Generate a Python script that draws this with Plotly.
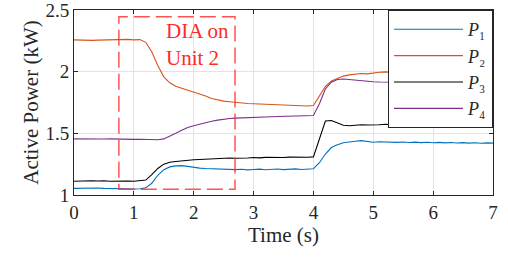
import plotly.graph_objects as go

TIME = [0.0, 0.1, 0.2, 0.3, 0.4, 0.5, 0.6, 0.7, 0.8, 0.9,
        1.0, 1.1, 1.2, 1.3, 1.4, 1.5, 1.6, 1.7, 1.8, 1.9,
        2.0, 2.1, 2.2, 2.3, 2.4, 2.5, 2.6, 2.7, 2.8, 2.9,
        3.0, 3.1, 3.2, 3.3, 3.4, 3.5, 3.6, 3.7, 3.8, 3.9,
        4.0, 4.1, 4.2, 4.3, 4.4, 4.5, 4.6, 4.7, 4.8, 4.9,
        5.0, 5.1, 5.2, 5.3, 5.4, 5.5, 5.6, 5.7, 5.8, 5.9,
        6.0, 6.1, 6.2, 6.3, 6.4, 6.5, 6.6, 6.7, 6.8, 6.9, 7.0]

P1 = [1.054, 1.056, 1.053, 1.055, 1.057, 1.054, 1.052, 1.055, 1.050, 1.048,
      1.049, 1.051, 1.058, 1.095, 1.160, 1.205, 1.228, 1.236, 1.238, 1.232,
      1.224, 1.218, 1.215, 1.212, 1.214, 1.208, 1.205, 1.206, 1.209, 1.204,
      1.207, 1.210, 1.205, 1.208, 1.211, 1.206, 1.209, 1.212, 1.207, 1.210,
      1.213, 1.262, 1.332, 1.385, 1.408, 1.424, 1.432, 1.436, 1.441, 1.437,
      1.428, 1.432, 1.429, 1.431, 1.427, 1.430, 1.426, 1.429, 1.425, 1.428,
      1.424, 1.427, 1.423, 1.426, 1.422, 1.425, 1.421, 1.424, 1.420, 1.423, 1.421]

P2 = [2.258, 2.255, 2.257, 2.254, 2.256, 2.258, 2.261, 2.257, 2.259, 2.262,
      2.258, 2.260, 2.238, 2.160, 2.050, 1.958, 1.910, 1.882, 1.866, 1.851,
      1.838, 1.820, 1.802, 1.783, 1.770, 1.761, 1.756, 1.750, 1.746, 1.742,
      1.740, 1.738, 1.735, 1.733, 1.734, 1.729, 1.731, 1.726, 1.728, 1.722,
      1.725, 1.800, 1.880, 1.924, 1.946, 1.964, 1.974, 1.979, 1.985, 1.982,
      1.991, 1.995, 1.998, 1.995, 2.001, 1.997, 2.002, 1.998, 2.003, 1.997,
      2.001, 1.996, 2.000, 1.997, 2.002, 1.998, 2.001, 1.996, 2.000, 1.998, 2.001]

P3 = [1.112, 1.114, 1.111, 1.115, 1.113, 1.116, 1.112, 1.114, 1.117, 1.113,
      1.111, 1.115, 1.121, 1.165, 1.215, 1.250, 1.265, 1.272, 1.278, 1.282,
      1.286, 1.288, 1.291, 1.290, 1.294, 1.296, 1.300, 1.298, 1.302, 1.300,
      1.304, 1.301, 1.305, 1.303, 1.306, 1.304, 1.307, 1.305, 1.308, 1.306,
      1.309, 1.455, 1.600, 1.604, 1.582, 1.566, 1.562, 1.566, 1.570, 1.568,
      1.572, 1.570, 1.574, 1.571, 1.575, 1.572, 1.576, 1.573, 1.577, 1.574,
      1.578, 1.575, 1.577, 1.574, 1.578, 1.575, 1.579, 1.576, 1.578, 1.575, 1.577]

P4 = [1.455, 1.454, 1.456, 1.455, 1.453, 1.454, 1.455, 1.453, 1.452, 1.453,
      1.451, 1.452, 1.450, 1.449, 1.448, 1.455, 1.475, 1.500, 1.525, 1.548,
      1.562, 1.575, 1.588, 1.598, 1.607, 1.615, 1.620, 1.623, 1.626, 1.628,
      1.630, 1.632, 1.633, 1.635, 1.636, 1.638, 1.639, 1.640, 1.642, 1.643,
      1.645, 1.740, 1.860, 1.915, 1.937, 1.940, 1.935, 1.928, 1.923, 1.920,
      1.918, 1.916, 1.915, 1.915, 1.914, 1.914, 1.914, 1.913, 1.913, 1.913,
      1.912, 1.912, 1.912, 1.911, 1.911, 1.911, 1.911, 1.910, 1.910, 1.910, 1.910]

SERIES_NAMES = ["<i>P</i>\u2081", "<i>P</i>\u2082", "<i>P</i>\u2083", "<i>P</i>\u2084"]
SERIES_COLORS = ["#0072BD", "#D95319", "#000000", "#7E2F8E"]

X_TICKS = [0, 1, 2, 3, 4, 5, 6, 7]
Y_TICKS = [1, 1.5, 2, 2.5]
Y_TICK_TEXT = ["1", "1.5", "2", "2.5"]

DIA_BOX = dict(t0=0.75, t1=2.69, p0=1.046, p1=2.446)
DIA_TEXT = "DIA on<br>Unit 2"

FONT = "Liberation Serif, DejaVu Serif, serif"

fig = go.Figure()
for name, ys, col in zip(SERIES_NAMES, [P1, P2, P3, P4], SERIES_COLORS):
    fig.add_trace(go.Scatter(x=TIME, y=ys, mode="lines", name=name,
                             line=dict(color=col, width=1.1)))

fig.add_shape(type="rect", xref="x", yref="y",
              x0=DIA_BOX["t0"], x1=DIA_BOX["t1"], y0=DIA_BOX["p0"], y1=DIA_BOX["p1"],
              line=dict(color="rgba(255,40,40,0.8)", width=1.5, dash="16px,6px"))
fig.add_annotation(x=1.50, y=2.44, xref="x", yref="y", text=DIA_TEXT,
                   showarrow=False, xanchor="left", yanchor="top", align="left",
                   font=dict(family=FONT, size=21, color="#FF2A2A"))

axis_common = dict(showline=True, linecolor="#262626", linewidth=1, mirror="ticks",
                   ticks="inside", ticklen=4, tickcolor="#262626", automargin=False,
                   ticklabeloverflow="allow",
                   showgrid=True, gridcolor="#e3e3e3", gridwidth=1, zeroline=False,
                   tickfont=dict(family=FONT, size=19, color="#262626"))

fig.update_xaxes(range=[0, 7], tickvals=X_TICKS,
                 title=dict(text="Time (s)", standoff=3,
                            font=dict(family=FONT, size=21, color="#262626")),
                 **axis_common)
fig.update_yaxes(range=[1, 2.5], tickvals=Y_TICKS, ticktext=Y_TICK_TEXT,
                 title=dict(text="Active Power (kW)", standoff=1,
                            font=dict(family=FONT, size=21, color="#262626")),
                 **axis_common)

fig.update_layout(
    width=508, height=259,
    margin=dict(l=74, r=15, t=10, b=64),
    plot_bgcolor="white", paper_bgcolor="white",
    showlegend=True,
    legend=dict(x=1, y=1, xanchor="right", yanchor="top",
                bgcolor="white", bordercolor="#262626", borderwidth=1,
                font=dict(family=FONT, size=18, color="#262626"),
                itemwidth=69, tracegroupgap=0),
)

fig.write_html("out.html", config={"displayModeBar": False},
               post_script="document.body.style.margin='0';")
